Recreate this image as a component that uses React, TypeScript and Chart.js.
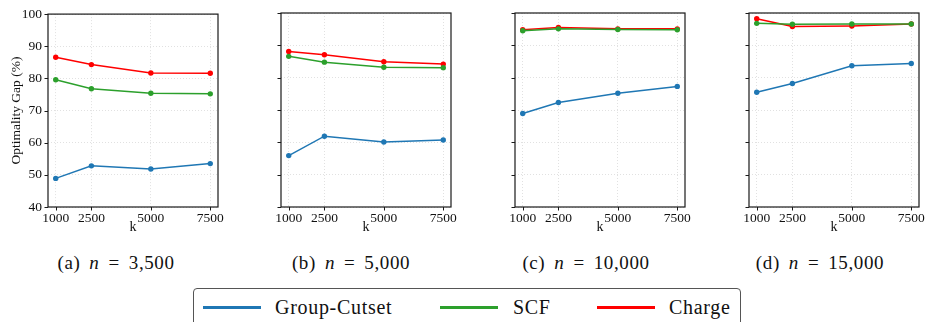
import React, { useEffect, useRef } from "react";
import { Chart, registerables } from "chart.js";

Chart.register(...registerables);

const kValues = [1000, 2500, 5000, 7500];
const yTicks = [40, 50, 60, 70, 80, 90, 100];

const panelLabels = ["(a)", "(b)", "(c)", "(d)"];
const panelSizes = ["3,500", "5,000", "10,000", "15,000"];

const seriesNames = ["Group-Cutset", "SCF", "Charge"];
const seriesColors = ["#1f77b4", "#2ca02c", "#ff0000"];

// values per panel: [Group-Cutset, SCF, Charge]
const groupCutsetA = [48.9, 52.8, 51.8, 53.5];
const scfA = [79.6, 76.8, 75.4, 75.2];
const chargeA = [86.6, 84.3, 81.7, 81.6];

const groupCutsetB = [55.9, 61.9, 60.1, 60.7];
const scfB = [86.6, 84.8, 83.2, 83.1];
const chargeB = [88.1, 87.1, 84.9, 84.2];

const groupCutsetC = [68.9, 72.3, 75.2, 77.3];
const scfC = [94.5, 95.1, 94.9, 94.8];
const chargeC = [94.8, 95.5, 95.1, 95.1];

const groupCutsetD = [75.5, 78.2, 83.7, 84.4];
const scfD = [96.8, 96.5, 96.6, 96.6];
const chargeD = [98.2, 95.8, 96.0, 96.6];

const panels = [
  [groupCutsetA, scfA, chargeA],
  [groupCutsetB, scfB, chargeB],
  [groupCutsetC, scfC, chargeC],
  [groupCutsetD, scfD, chargeD],
];

const FONT = "Liberation Serif";
const canvasLefts = [0, 233, 467, 701];
const captionCenters = [116, 351, 586, 820];

const framePlugin = {
  id: "frameTicks",
  afterDraw(chart: any) {
    const { ctx, chartArea: a, scales } = chart;
    ctx.save();
    ctx.strokeStyle = "#1a1a1a";
    ctx.lineWidth = 1;
    ctx.beginPath();
    scales.x.ticks.forEach((t: any) => {
      const px = Math.round(scales.x.getPixelForValue(t.value)) + 0.5;
      ctx.moveTo(px, a.bottom);
      ctx.lineTo(px, a.bottom + 3.5);
    });
    scales.y.ticks.forEach((t: any) => {
      const py = Math.round(scales.y.getPixelForValue(t.value)) + 0.5;
      ctx.moveTo(a.left, py);
      ctx.lineTo(a.left - 3.5, py);
    });
    ctx.stroke();
    ctx.lineWidth = 1.2;
    ctx.strokeRect(a.left, a.top, a.right - a.left, a.bottom - a.top);
    ctx.restore();
  },
};

function Panel({ index }: { index: number }) {
  const ref = useRef<HTMLCanvasElement | null>(null);
  useEffect(() => {
    if (!ref.current) return;
    const showY = index === 0;
    const data = panels[index];
    const chart = new Chart(ref.current, {
      type: "line",
      data: {
        datasets: data.map((vals, si) => ({
          label: seriesNames[si],
          data: kValues.map((k, i) => ({ x: k, y: vals[i] })),
          borderColor: seriesColors[si],
          backgroundColor: seriesColors[si],
          borderWidth: 1.5,
          pointRadius: 2.7,
          pointBorderWidth: 0,
          tension: 0,
        })),
      },
      options: {
        animation: false,
        responsive: false,
        devicePixelRatio: 1,
        layout: { padding: { top: 13, right: 22, left: 0, bottom: 0 } },
        plugins: { legend: { display: false }, tooltip: { enabled: false } },
        scales: {
          x: {
            type: "linear",
            min: 675,
            max: 7825,
            afterBuildTicks: (s: any) => {
              s.ticks = kValues.map((v) => ({ value: v }));
            },
            afterFit: (s: any) => {
              s.height = 33;
            },
            ticks: {
              autoSkip: false,
              maxRotation: 0,
              padding: 3,
              color: "#111",
              font: { family: FONT, size: 13.5 },
              callback: (v: any) => String(v),
            },
            grid: { color: "#d9d9d9", lineWidth: 0.8, drawTicks: false },
            border: { display: false, dash: [1, 2] },
            title: {
              display: true,
              text: "k",
              color: "#111",
              font: { family: FONT, size: 14 },
              padding: { top: 0, bottom: 4 },
            },
          },
          y: {
            min: 40,
            max: 100,
            afterBuildTicks: (s: any) => {
              s.ticks = yTicks.map((v) => ({ value: v }));
            },
            afterFit: (s: any) => {
              s.width = 48;
            },
            ticks: {
              display: showY,
              padding: 6,
              color: "#111",
              font: { family: FONT, size: 13.5 },
              callback: (v: any) => String(v),
            },
            grid: { color: "#d9d9d9", lineWidth: 0.8, drawTicks: false },
            border: { display: false, dash: [1, 2] },
            title: {
              display: showY,
              text: "Optimality Gap (%)",
              color: "#111",
              font: { family: FONT, size: 13.5 },
              padding: { top: 8, bottom: 0 },
            },
          },
        },
      },
      plugins: [framePlugin],
    } as any);
    return () => chart.destroy();
  }, [index]);
  return (
    <canvas
      ref={ref}
      width={240}
      height={240}
      style={{ position: "absolute", left: canvasLefts[index], top: 0, width: 240, height: 240 }}
    />
  );
}

const legendItems = [
  { lineLeft: 203, textLeft: 275 },
  { lineLeft: 440, textLeft: 513 },
  { lineLeft: 597, textLeft: 669 },
];

export default function App() {
  return (
    <div
      style={{
        position: "fixed",
        left: 0,
        top: 0,
        width: 925,
        height: 322,
        overflow: "hidden",
        background: "#fff",
        fontFamily: FONT,
        color: "#111",
      }}
    >
      {panels.map((_, i) => (
        <Panel key={i} index={i} />
      ))}
      {panelLabels.map((lab, i) => (
        <div
          key={lab}
          style={{
            position: "absolute",
            left: captionCenters[i] - 100,
            width: 200,
            top: 251,
            textAlign: "center",
            fontSize: 19,
            lineHeight: "24px",
            letterSpacing: 0.6,
            whiteSpace: "nowrap",
          }}
        >
          {lab}
          <span style={{ marginLeft: 9 }}>
            <i>n</i>
          </span>
          <span style={{ margin: "0 9px" }}>=</span>
          {panelSizes[i]}
        </div>
      ))}
      <div
        style={{
          position: "absolute",
          left: 193,
          top: 288,
          width: 548,
          height: 44,
          border: "1px solid #555",
          borderRadius: 4,
          boxSizing: "border-box",
        }}
      />
      {legendItems.map((it, i) => (
        <React.Fragment key={seriesNames[i]}>
          <div
            style={{
              position: "absolute",
              left: it.lineLeft,
              top: 306,
              width: 58,
              height: 2.5,
              background: seriesColors[i],
            }}
          />
          <div
            style={{
              position: "absolute",
              left: it.textLeft,
              top: 294,
              fontSize: 20,
              lineHeight: "26px",
              letterSpacing: 0.7,
              whiteSpace: "nowrap",
            }}
          >
            {seriesNames[i]}
          </div>
        </React.Fragment>
      ))}
    </div>
  );
}
